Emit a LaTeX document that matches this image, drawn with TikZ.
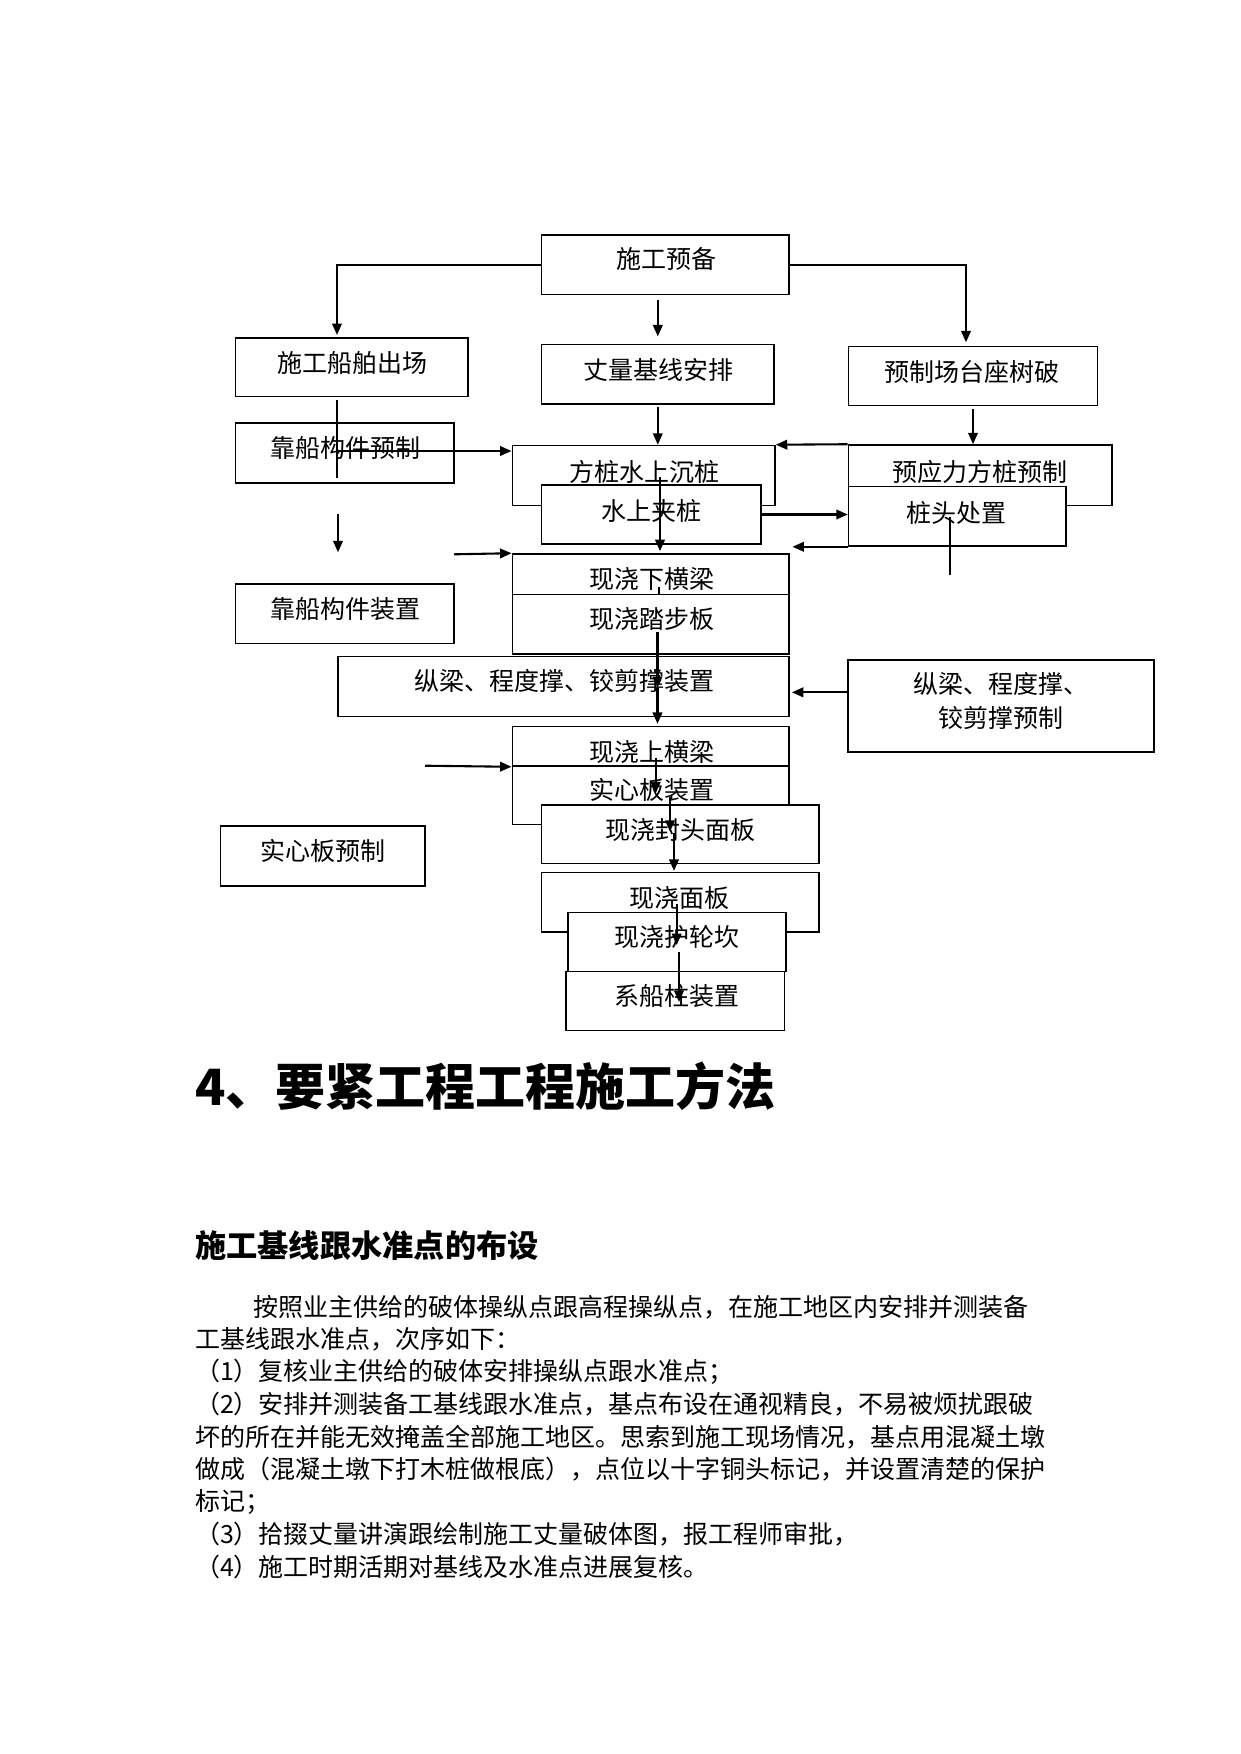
\documentclass[tikz,border=0pt]{standalone}
\usepackage{fontspec}
\setmainfont{Noto Sans CJK SC}
\usetikzlibrary{arrows.meta,fit}
\begin{document}
\begin{tikzpicture}[x=0.48pt,y=-0.48pt,
  box/.style={draw, fill=white, line width=0.75pt, inner sep=0pt},
  lbl/.style={inner sep=0pt, font=\fontsize{12pt}{15.5pt}\selectfont},
  body/.style={inner sep=0pt, anchor=west, font=\fontsize{12pt}{15.5pt}\selectfont},
  arr/.style={line width=1pt, -{Triangle[length=5.5pt,width=4.6pt]}},
  ln/.style={line width=1pt},
  thinln/.style={line width=0.5pt}]
\useasboundingbox[fill=white] (0,0) rectangle (1241,1754);

% ---------- boxes ----------
\node[box, fit={(541.6,235) (789,294.3)}] (prep) {};
\node[box, fit={(235.5,338) (468,396.5)}] (ship) {};
\node[box, fit={(541.6,344.3) (774,404)}] (survey) {};
\node[box, fit={(848.5,346.7) (1097.5,405.7)}] (yard) {};
\node[box, fit={(235.5,423) (454,483)}] (kaopre) {};
\node[box, fit={(512.3,445.5) (775,505.5)}] (pile) {};
\node[box, fit={(541.5,485) (761,544)}] (clamp) {};
\node[box, fit={(848.5,445) (1112,505.5)}] (prest) {};
\node[box, fit={(848.5,486.7) (1066,546)}] (head) {};
\node[box, fit={(235.5,584) (454,643.5)}] (kaoins) {};
\node[box, fit={(512.3,554) (789,594.5)}] (lowbeam) {};
\node[box, fit={(512.3,594.5) (789,654)}] (tread) {};
\node[box, fit={(338,656.7) (789,716.3)}] (longbeam) {};
\node[box, fit={(847.8,660) (1154,752)}] (longpre) {};
\node[box, fit={(512.3,726.7) (789,766)}] (upbeam) {};
\node[box, fit={(512.3,766) (789,824.7)}] (solid) {};
\node[box, fit={(541.6,805) (819,863.5)}] (endpanel) {};
\node[box, fit={(220.4,826) (425,886)}] (solidpre) {};
\node[box, fit={(541.6,872.7) (819,932)}] (deck) {};
\node[box, fit={(568,912.3) (786,971.5)}] (curb) {};
\node[box, fit={(566,971.5) (784.5,1030.7)}] (bollard) {};

% ---------- box texts ----------
\node[lbl] (tprep) at (666,259) {施工预备};
\node[lbl] (tship) at (352,363) {施工船舶出场};
\node[lbl] (tsurvey) at (658,370) {丈量基线安排};
\node[lbl] (tyard) at (972,371.5) {预制场台座树破};
\node[lbl] (tkaopre) at (345,448) {靠船构件预制};
\node[lbl] (tpile) at (644,472) {方桩水上沉桩};
\node[lbl] (tclamp) at (651,511) {水上夹桩};
\node[lbl] (tprest) at (980,472) {预应力方桩预制};
\node[lbl] (thead) at (956.5,512.5) {桩头处置};
\node[lbl] (tkaoins) at (345,609) {靠船构件装置};
\node[lbl] (tlowbeam) at (651.5,579) {现浇下横梁};
\node[lbl] (ttread) at (651.5,619) {现浇踏步板};
\node[lbl] (tlongbeam) at (564,681) {纵梁、程度撑、铰剪撑装置};
\node[lbl, align=center] (tlongpre) at (1001,701) {纵梁、程度撑、\\[0.9pt]铰剪撑预制};
\node[lbl] (tupbeam) at (651.5,752) {现浇上横梁};
\node[lbl] (tsolid) at (651.5,790) {实心板装置};
\node[lbl] (tendpanel) at (680,830) {现浇封头面板};
\node[lbl] (tsolidpre) at (322.5,851) {实心板预制};
\node[lbl] (tdeck) at (679,898) {现浇面板};
\node[lbl] (tcurb) at (677,937) {现浇护轮坎};
\node[lbl] (tbollard) at (677,996) {系船柱装置};

% ---------- free ends ----------
\coordinate (aT) at (337,335);
\coordinate (cT) at (966,342.3);
\coordinate (v1a) at (337,400);
\coordinate (v1b) at (337,478);
\coordinate (k1s) at (337,451);
\coordinate (k2s) at (338,514.3);
\coordinate (k2t) at (338,552.3);
\coordinate (k3s) at (454,554.3);
\coordinate (j0) at (660,477);
\coordinate (i0) at (950,516.7);
\coordinate (i1) at (950,575);
\coordinate (m0) at (847.8,692.3);
\coordinate (n0) at (425,765.7);
\coordinate (l0) at (659,586.7);
\coordinate (l1) at (657.5,632);
\coordinate (l2) at (657.5,688);
\coordinate (o0) at (655.7,758);
\coordinate (o1) at (655.7,793.3);
\coordinate (p0) at (670,796.7);
\coordinate (p1) at (670,831.7);
\coordinate (q0) at (674,833);
\coordinate (r0) at (676.7,904);
\coordinate (r1) at (676.7,945);
\coordinate (s0) at (679,952);
\coordinate (s1) at (679,1002);

% ---------- connectors ----------
\draw[arr] (prep.west) -| (aT);
\draw[arr] (prep.east) -| (cT);
\draw[arr, shorten <=2.4pt, shorten >=3.4pt] (prep.south -| survey.north) -- (survey.north);
\draw[arr, shorten <=1pt] (survey.south) -- (survey.south |- pile.north);
\draw[arr, shorten <=1.3pt] (yard.south) -- (yard.south |- prest.north);
\draw[arr] (prest.north west) -- (pile.north east);
\draw[arr] (clamp.east) -- (clamp.east -| head.west);
\draw[arr, shorten >=1.3pt] (head.south west) -- (head.south west -| lowbeam.east);
\draw[ln] (i0) -- (i1);
\draw[arr, shorten >=1pt] (j0) -- (j0 |- lowbeam.north);
\draw[thinln] (v1a) -- (v1b);
\draw[arr] (k1s) -- (k1s -| pile.west);
\draw[arr] (k2s) -- (k2t);
\draw[arr] (k3s) -- (lowbeam.north west);
\draw[ln] (l0) -- (l0 |- lowbeam.south);
\draw[arr] (l1) -- (l2);
\draw[arr, shorten >=1pt] (l2) -- (l2 |- upbeam.north);
\draw[arr, shorten >=1pt] (m0) -- (m0 -| longbeam.east);
\draw[arr] (n0) -- (upbeam.south west);
\draw[arr] (o0) -- (o1);
\draw[arr] (p0) -- (p1);
\draw[arr, shorten >=0.5pt] (q0) -- (q0 |- deck.north);
\draw[arr] (r0) -- (r1);
\draw[arr] (s0) -- (s1);

% ---------- text below ----------
\node[inner sep=0pt, anchor=west, font=\fontsize{24pt}{28pt}\selectfont\bfseries] (title) at (194.7,1086) {4、要紧工程工程施工方法};
\node[inner sep=0pt, anchor=west, font=\fontsize{15pt}{18pt}\selectfont\bfseries] (sub) at (194.7,1245.5) {施工基线跟水准点的布设};
\node[body] (b1) at (252.9,1307) {按照业主供给的破体操纵点跟高程操纵点，在施工地区内安排并测装备};
\node[body] (b2) at (194.7,1339.5) {工基线跟水准点，次序如下：};
\node[body] (b3) at (194.7,1372) {（1）复核业主供给的破体安排操纵点跟水准点；};
\node[body] (b4) at (194.7,1404) {（2）安排并测装备工基线跟水准点，基点布设在通视精良，不易被烦扰跟破};
\node[body] (b5) at (194.7,1437) {坏的所在并能无效掩盖全部施工地区。思索到施工现场情况，基点用混凝土墩};
\node[body] (b6) at (194.7,1469) {做成（混凝土墩下打木桩做根底），点位以十字铜头标记，并设置清楚的保护};
\node[body] (b7) at (194.7,1502) {标记；};
\node[body] (b8) at (194.7,1534) {（3）拾掇丈量讲演跟绘制施工丈量破体图，报工程师审批，};
\node[body] (b9) at (194.7,1566.6) {（4）施工时期活期对基线及水准点进展复核。};
\end{tikzpicture}
\end{document}
